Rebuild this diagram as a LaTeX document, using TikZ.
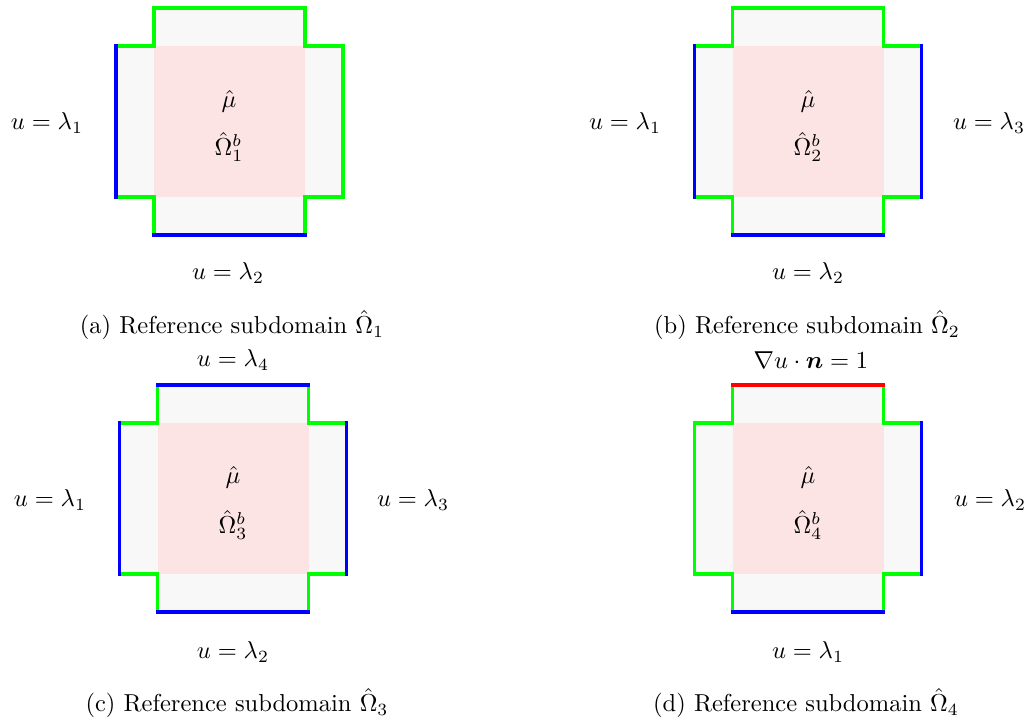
\documentclass[tikz,border=0pt]{standalone}
\usepackage{amsmath}
\definecolor{bgreen}{RGB}{0,255,0}
\definecolor{bblue}{RGB}{0,0,255}
\definecolor{bred}{RGB}{255,0,0}
\definecolor{pinkfill}{RGB}{252,228,228}
\definecolor{greyfill}{RGB}{248,248,248}
\newcommand{\hh}{75.5}
\newcommand{\HH}{113.5}
\tikzset{
  edge/.style={line width=1.6pt, line cap=rect},
  lbl/.style={inner sep=0pt},
}
% #1 cx, #2 cy, #3 top, #4 right, #5 bottom, #6 left colours
\newcommand{\crossdom}[6]{%
\begin{scope}[shift={(#1,#2)}]
  \fill[greyfill] (-\hh,-\HH) -- (\hh,-\HH) -- (\hh,-\hh) -- (\HH,-\hh) -- (\HH,\hh) -- (\hh,\hh) -- (\hh,\HH) -- (-\hh,\HH) -- (-\hh,\hh) -- (-\HH,\hh) -- (-\HH,-\hh) -- (-\hh,-\hh) -- cycle;
  \fill[pinkfill] (-\hh,-\hh) rectangle (\hh,\hh);
  \draw[edge,bgreen] (\hh,-\HH) -- (\hh,-\hh) -- (\HH,-\hh);
  \draw[edge,bgreen] (\HH,\hh) -- (\hh,\hh) -- (\hh,\HH);
  \draw[edge,bgreen] (-\hh,\HH) -- (-\hh,\hh) -- (-\HH,\hh);
  \draw[edge,bgreen] (-\HH,-\hh) -- (-\hh,-\hh) -- (-\hh,-\HH);
  \draw[edge,#3] (-\hh,-\HH) -- (\hh,-\HH);
  \draw[edge,#4] (\HH,-\hh) -- (\HH,\hh);
  \draw[edge,#5] (\hh,\HH) -- (-\hh,\HH);
  \draw[edge,#6] (-\HH,\hh) -- (-\HH,-\hh);
\end{scope}}
\begin{document}
\begin{tikzpicture}[x=0.408pt,y=-0.408pt]
\path[use as bounding box] (0,0) rectangle (1032,719);
% (a)
\crossdom{229.5}{121.5}{bgreen}{bgreen}{bblue}{bblue}
\node[lbl] (aL) at (47,123) {$u=\lambda_1$};
\node[lbl] (aM) at (229,101) {$\hat{\mu}$};
\node[lbl] (aO) at (229,147) {$\hat{\Omega}_1^b$};
\node[lbl] (aB) at (228,273) {$u=\lambda_2$};
\node[lbl] (aC) at (232,325) {(a) Reference subdomain $\hat{\Omega}_1$};
% (b)
\crossdom{808}{121.5}{bgreen}{bblue}{bblue}{bblue}
\node[lbl] (bL) at (625,123) {$u=\lambda_1$};
\node[lbl] (bR) at (989,123) {$u=\lambda_3$};
\node[lbl] (bM) at (808,101) {$\hat{\mu}$};
\node[lbl] (bO) at (808,147) {$\hat{\Omega}_2^b$};
\node[lbl] (bB) at (808,273) {$u=\lambda_2$};
\node[lbl] (bC) at (807,325) {(b) Reference subdomain $\hat{\Omega}_2$};
% (c)
\crossdom{233}{498.5}{bblue}{bblue}{bblue}{bblue}
\node[lbl] (cT) at (233,360) {$u=\lambda_4$};
\node[lbl] (cL) at (50,500) {$u=\lambda_1$};
\node[lbl] (cR) at (413,500) {$u=\lambda_3$};
\node[lbl] (cM) at (233,477) {$\hat{\mu}$};
\node[lbl] (cO) at (233,525) {$\hat{\Omega}_3^b$};
\node[lbl] (cB) at (233,652) {$u=\lambda_2$};
\node[lbl] (cC) at (237,703) {(c) Reference subdomain $\hat{\Omega}_3$};
% (d)
\crossdom{808}{498.5}{bred}{bblue}{bblue}{bgreen}
\node[lbl] (dT) at (811,360) {$\nabla u\cdot\boldsymbol{n}=1$};
\node[lbl] (dR) at (990,500) {$u=\lambda_2$};
\node[lbl] (dM) at (808,477) {$\hat{\mu}$};
\node[lbl] (dO) at (808,525) {$\hat{\Omega}_4^b$};
\node[lbl] (dB) at (808,652) {$u=\lambda_1$};
\node[lbl] (dC) at (806,703) {(d) Reference subdomain $\hat{\Omega}_4$};
\end{tikzpicture}
\end{document}
